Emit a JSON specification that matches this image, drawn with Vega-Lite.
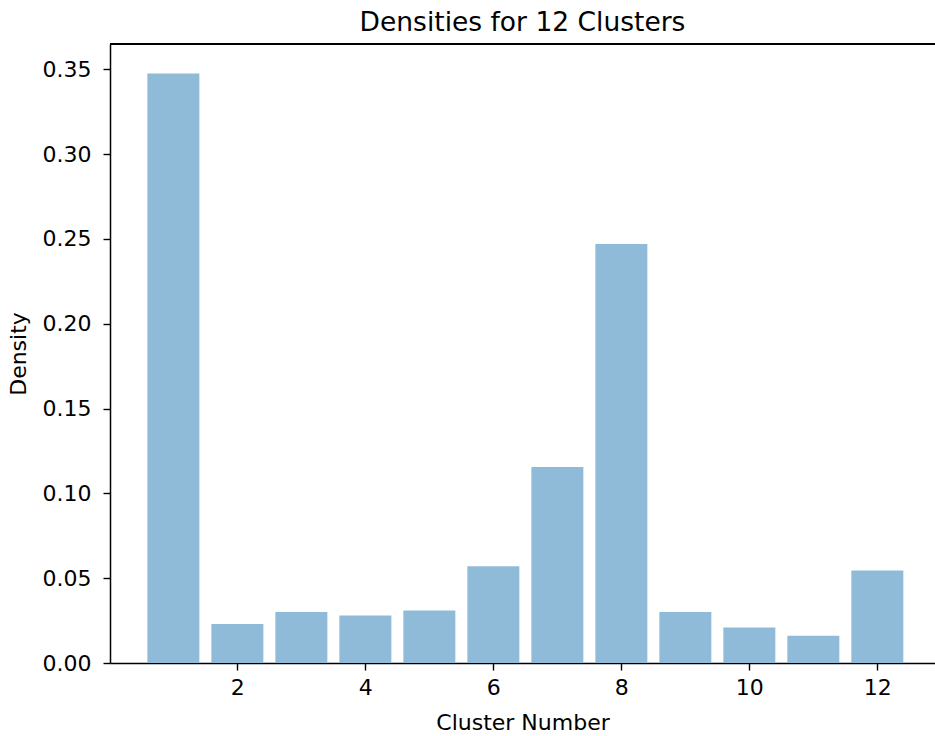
{
  "$schema": "https://vega.github.io/schema/vega-lite/v6.json",
  "autosize": {"type": "none"},
  "width": 825,
  "height": 619,
  "padding": {"left": 110, "top": 44, "right": 0, "bottom": 73},
  "background": "white",
  "title": {
    "text": "Densities for 12 Clusters",
    "anchor": "middle",
    "frame": "group",
    "fontSize": 26.5,
    "font": "DejaVu Sans",
    "fontWeight": "normal",
    "color": "black",
    "offset": 7
  },
  "config": {
    "view": {"stroke": null},
    "axis": {
      "labelFont": "DejaVu Sans",
      "titleFont": "DejaVu Sans",
      "labelFontSize": 22,
      "titleFontSize": 22,
      "titleFontWeight": "normal",
      "labelColor": "black",
      "titleColor": "black",
      "domainColor": "black",
      "tickColor": "black",
      "domainWidth": 1.5,
      "tickWidth": 1.4,
      "tickSize": 7,
      "grid": false
    }
  },
  "data": {
    "values": [
      {"cluster": 1, "density": 0.3475},
      {"cluster": 2, "density": 0.023},
      {"cluster": 3, "density": 0.030},
      {"cluster": 4, "density": 0.028},
      {"cluster": 5, "density": 0.031},
      {"cluster": 6, "density": 0.057},
      {"cluster": 7, "density": 0.1155},
      {"cluster": 8, "density": 0.247},
      {"cluster": 9, "density": 0.030},
      {"cluster": 10, "density": 0.021},
      {"cluster": 11, "density": 0.016},
      {"cluster": 12, "density": 0.0545}
    ]
  },
  "layer": [
    {
      "mark": {"type": "bar", "size": 52, "color": "#8fbbd9", "opacity": 1},
      "encoding": {
        "x": {
          "field": "cluster",
          "type": "quantitative",
          "scale": {"domain": [0.01, 12.901], "nice": false, "zero": false, "padding": 0},
          "axis": {
            "values": [2, 4, 6, 8, 10, 12],
            "title": "Cluster Number",
            "labelPadding": 7,
            "titlePadding": 14
          }
        },
        "y": {
          "field": "density",
          "type": "quantitative",
          "scale": {"domain": [0, 0.3649], "nice": false},
          "axis": {
            "values": [0, 0.05, 0.1, 0.15, 0.2, 0.25, 0.3, 0.35],
            "format": ".2f",
            "title": "Density",
            "labelPadding": 12,
            "titlePadding": 12
          }
        }
      }
    },
    {
      "mark": {"type": "rule", "color": "black", "strokeWidth": 1.5},
      "encoding": {
        "y": {"datum": 0.3649, "type": "quantitative"}
      }
    }
  ]
}
